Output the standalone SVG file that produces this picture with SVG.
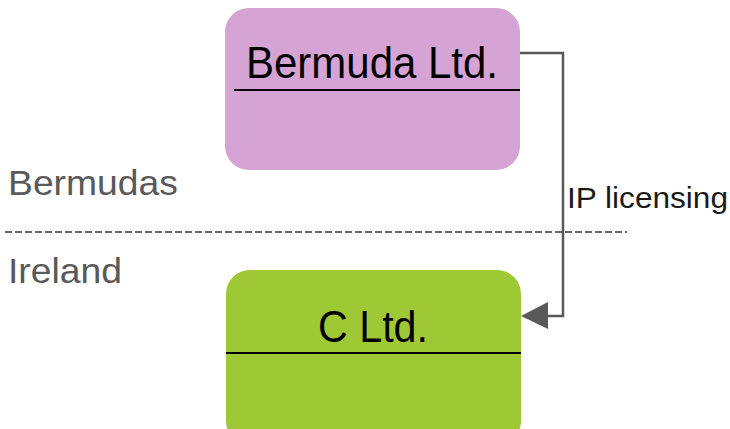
<svg xmlns="http://www.w3.org/2000/svg" width="730" height="429" viewBox="0 0 730 429">
<style>
.box{stroke:none}
.sep{stroke:#000;stroke-width:2}
.name{font-family:"Liberation Sans",Arial,sans-serif;font-size:44px;fill:#000}
.region{font-family:"Liberation Sans",Arial,sans-serif;font-size:35px;fill:#595959}
.lbl{font-family:"Liberation Sans",Arial,sans-serif;font-size:29px;fill:#1a1a1a}
.conn{fill:none;stroke:#595959;stroke-width:2.5}
</style>
<g id="regions">
<text class="region" x="8" y="195" textLength="170" lengthAdjust="spacingAndGlyphs">Bermudas</text>
<line x1="5" y1="232" x2="627" y2="232" stroke="#666" stroke-width="2" stroke-dasharray="7,3"/>
<text class="region" x="8" y="283" textLength="114" lengthAdjust="spacingAndGlyphs">Ireland</text>
</g>
<g id="bermuda">
<rect class="box" x="225" y="8" width="295" height="162" rx="24" fill="#D6A4D4"/>
<line class="sep" x1="234" y1="90" x2="520" y2="90"/>
<text class="name" x="246" y="78" textLength="252" lengthAdjust="spacingAndGlyphs">Bermuda Ltd.</text>
</g>
<g id="cltd">
<rect class="box" x="226" y="270" width="295" height="175" rx="24" fill="#9FC934"/>
<line class="sep" x1="226" y1="353" x2="521" y2="353"/>
<text class="name" x="318" y="342" textLength="110" lengthAdjust="spacingAndGlyphs">C Ltd.</text>
</g>
<g id="connectors">
<polyline class="conn" points="520,53 563,53 563,316 546,316"/>
<path d="M521,316 L548,302 L548,329 Z" fill="#595959"/>
<text class="lbl" x="567" y="208" textLength="161" lengthAdjust="spacingAndGlyphs">IP licensing</text>
</g>
</svg>
